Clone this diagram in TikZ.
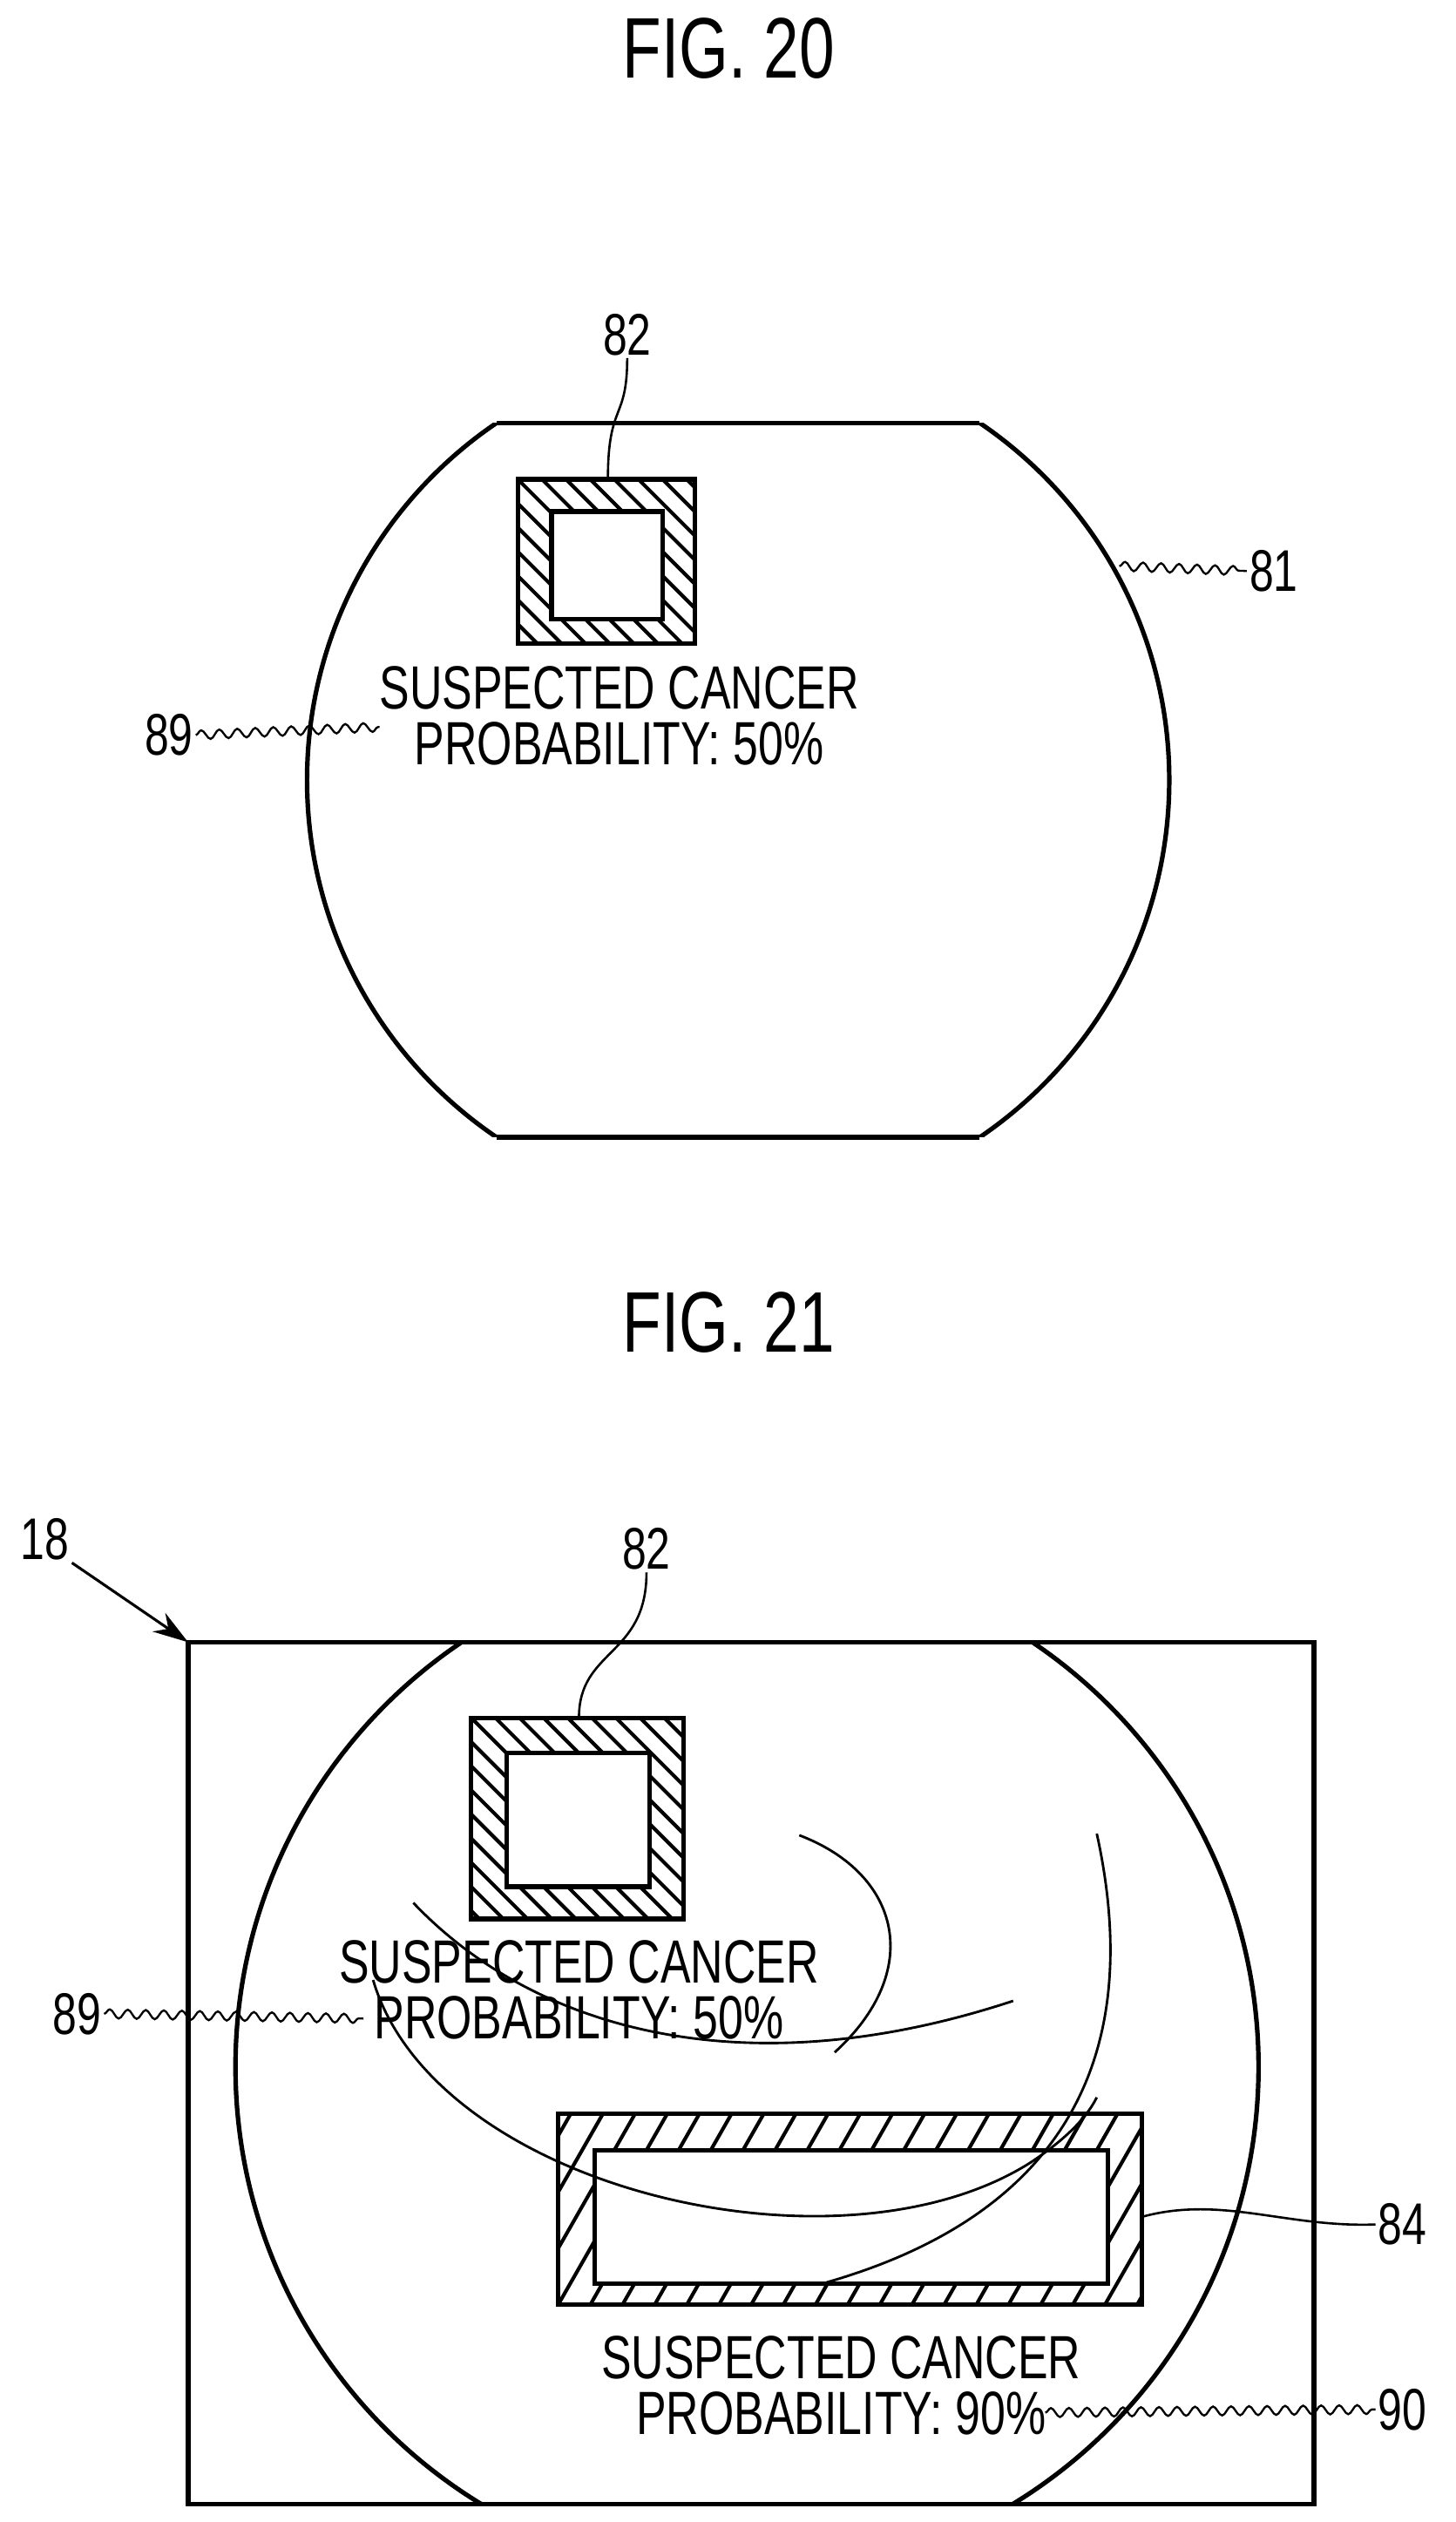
\documentclass[tikz,border=0pt]{standalone}
\usepackage{fontspec}
\setmainfont{Liberation Sans}
\newfontfamily\narrowfont{Liberation Sans}[FakeStretch=0.74]
\usetikzlibrary{decorations.pathmorphing,arrows.meta}
\tikzset{
  outline/.style={line width=2pt},
  organ/.style={line width=1.1pt},
  label/.style={font=\narrowfont\fontsize{26}{28}\selectfont, inner sep=1pt},
  caption/.style={font=\narrowfont\fontsize{27}{24.5}\selectfont, align=center, inner sep=0pt},
  title/.style={font=\narrowfont\fontsize{38}{40}\selectfont},
  wavy/.style={line width=0.9pt, decorate, decoration={snake, amplitude=0.07cm, segment length=0.28cm}}
}
\begin{document}
\begin{tikzpicture}[x=0.025cm, y=-0.025cm]
  \useasboundingbox (0,0) rectangle (905,1568);

  % FIG. 20
  \node[title] (t20) at (453,30) {FIG. 20};
  \begin{scope}
    \clip (100,263) rectangle (800,707);
    \draw[outline] (459,485) circle[radius=6.7cm];
  \end{scope}
  \draw[outline] (309,263) -- (609,263);
  \draw[outline] (309,707) -- (609,707);
  \begin{scope}
    \clip (322,298) rectangle (432,400);
    \foreach \s in {-300,-285,...,300}
      \draw[line width=1.6pt] (322+\s,298) -- ++(200,200);
  \end{scope}
  \fill[white] (343,318) rectangle (412,385);
  \draw[outline] (322,298) rectangle (432,400);
  \draw[outline] (343,318) rectangle (412,385);
  \node[caption] (cap20) at (385,445) {SUSPECTED CANCER\\PROBABILITY: 50\%};
  \node[label] (n82a) at (390,208) {82};
  \coordinate (b82a) at (378,298);
  \draw[line width=1pt] (n82a.south) .. controls (390,262) and (378,250) .. (b82a);
  \node[label] (n81) at (792,355) {81};
  \coordinate (e81) at (696,352);
  \draw[wavy] (e81) -- (n81.west);
  \node[label] (n89a) at (105,457) {89};
  \coordinate (e89a) at (236,452);
  \draw[wavy] (n89a.east) -- (e89a);

  % FIG. 21
  \node[title] (t21) at (453,822) {FIG. 21};
  \draw[outline] (117,1021) rectangle (817,1557);
  \begin{scope}
    \clip (117,1021) rectangle (817,1557);
    \draw[outline] (464.5,1285) circle[radius=7.95cm];
  \end{scope}
  \node[label] (n18) at (28,957) {18};
  \coordinate (c18) at (117,1021);
  \draw[line width=1.2pt, -{Stealth[length=0.55cm, width=0.35cm]}] (n18.south east) -- (c18);

  % organ lines
  \draw[organ] (497,1141) .. controls (560,1165) and (575,1225) .. (519,1276);
  \draw[organ] (257,1183) .. controls (330,1260) and (460,1300) .. (630,1244);

  % box 82
  \begin{scope}
    \clip (293,1068) rectangle (425,1193);
    \foreach \s in {-300,-285,...,300}
      \draw[line width=1.6pt] (293+\s,1068) -- ++(200,200);
  \end{scope}
  \fill[white] (315,1090) rectangle (404,1173);
  \draw[outline] (293,1068) rectangle (425,1193);
  \draw[outline] (315,1090) rectangle (404,1173);
  \node[caption] (cap21a) at (360,1237) {SUSPECTED CANCER\\PROBABILITY: 50\%};
  \node[label] (n82b) at (402,963) {82};
  \coordinate (b82b) at (360,1068);
  \draw[line width=1pt] (n82b.south) .. controls (402,1030) and (360,1025) .. (b82b);
  \node[label] (n89b) at (48,1252) {89};
  \coordinate (e89b) at (226,1255);
  \draw[wavy] (n89b.east) -- (e89b);

  % box 84
  \begin{scope}
    \clip (347,1314) rectangle (710,1433);
    \foreach \s in {-100,-80,...,460}
      \draw[line width=1.6pt] (347+\s,1433) -- ++(80,-140);
  \end{scope}
  \fill[white] (370,1337) rectangle (689,1420);
  \draw[outline] (347,1314) rectangle (710,1433);
  \draw[outline] (370,1337) rectangle (689,1420);
  \draw[organ] (232,1231) .. controls (270,1360) and (520,1420) .. (640,1345) .. controls (660,1332) and (675,1318) .. (682,1304);
  \draw[organ] (682,1140) .. controls (715,1290) and (650,1380) .. (514,1419);
  \node[caption] (cap21b) at (523,1483) {SUSPECTED CANCER\\PROBABILITY: 90\%};
  \node[label] (n84) at (872,1383) {84};
  \coordinate (e84) at (711,1378);
  \draw[line width=1pt] (e84) .. controls (760,1365) and (800,1385) .. (n84.west);
  \node[label] (n90) at (872,1498) {90};
  \coordinate (e90) at (650,1500);
  \draw[wavy] (e90) -- (n90.west);
\end{tikzpicture}
\end{document}
